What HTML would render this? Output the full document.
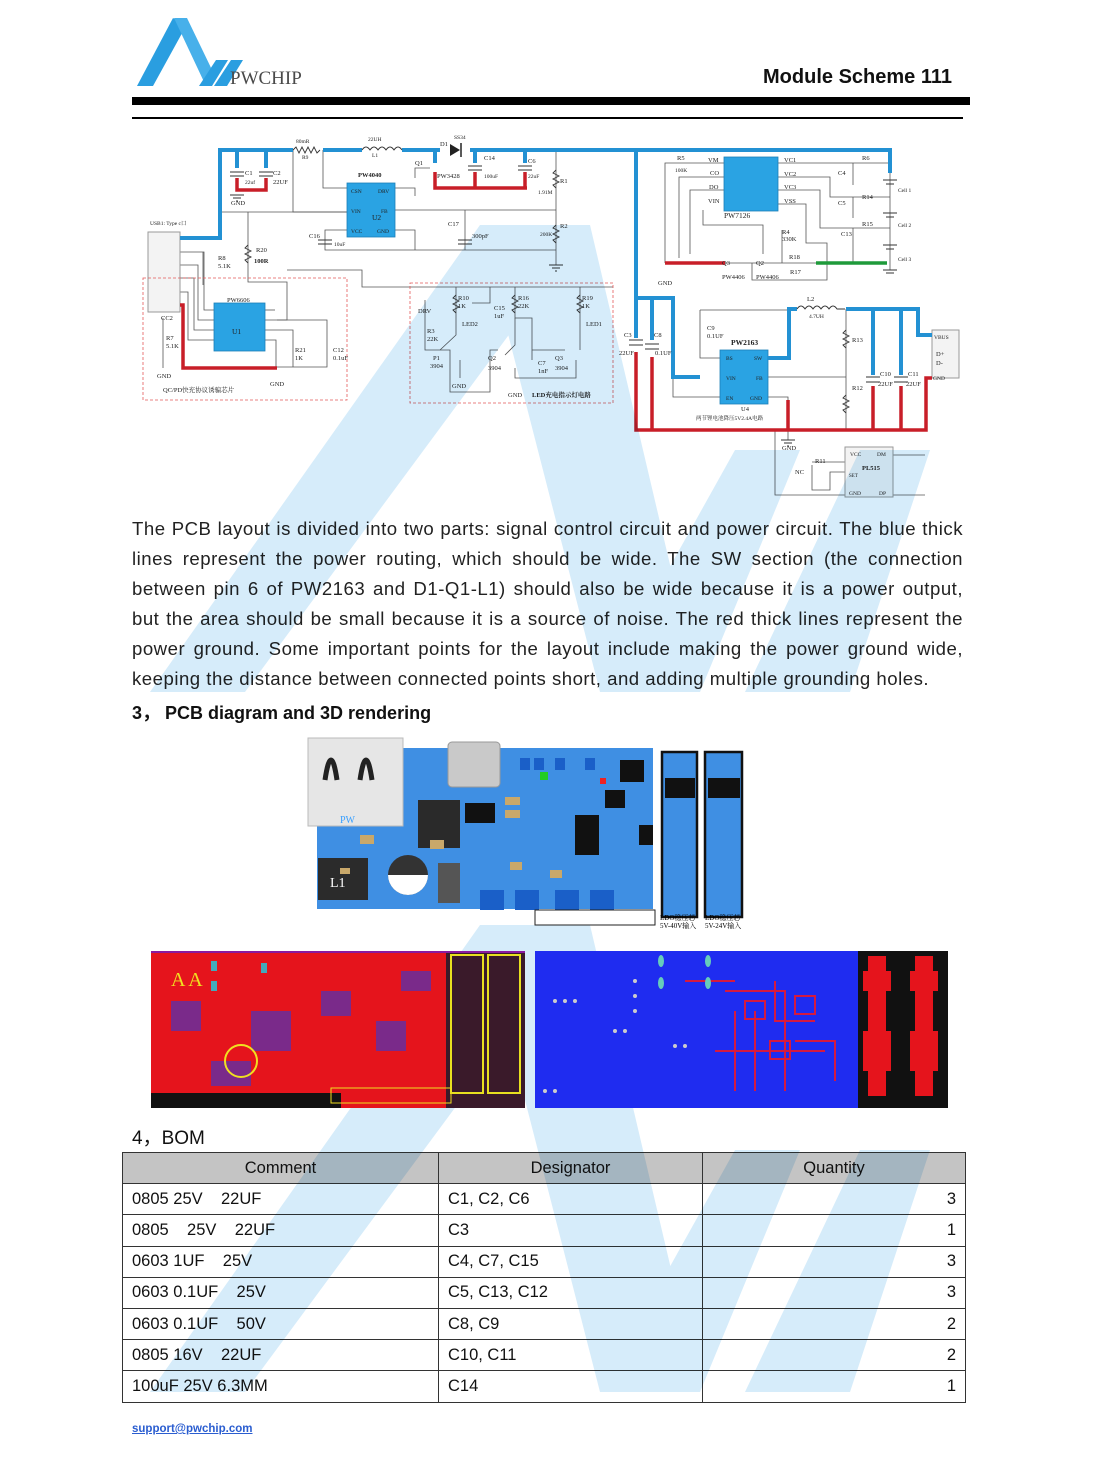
<!DOCTYPE html>
<html><head><meta charset="utf-8">
<style>
*{margin:0;padding:0;box-sizing:border-box}
html,body{width:1109px;height:1476px;background:#fff;overflow:hidden}
body{position:relative;font-family:"Liberation Sans","Noto Sans CJK SC",sans-serif;color:#111}
.abs{position:absolute}
#wm{position:absolute;left:0;top:0;z-index:5;mix-blend-mode:multiply;pointer-events:none}
.para{position:absolute;left:132px;width:831px;font-size:18.6px;line-height:30px;color:#222;z-index:2;letter-spacing:0.5px}
.para div{text-align:justify;text-align-last:justify;white-space:nowrap;height:30px;overflow:visible}
.para div.last{text-align-last:left}
table{position:absolute;left:122px;top:1152px;width:844px;border-collapse:collapse;font-size:16.5px;z-index:2}
td{border:1.3px solid #333;height:31.2px;padding:0 9px;color:#111}
tr.h td{background:#c4c4c4;text-align:center}
td.q{text-align:right}
.img{z-index:8}
svg text{font-family:"Liberation Serif","Noto Serif CJK SC",serif}
</style></head><body>

<svg class="abs" style="left:0;top:0" width="400" height="100">
<polygon points="137,86 153,86 186,26 173,18" fill="#2a9ee0"/>
<polygon points="174,18 187,18 214,74 205,84" fill="#47b0ea"/>
<polygon points="199,86 212,86 228,60 216,60" fill="#2a9ee0"/>
<polygon points="214,86 227,86 243,60 231,60" fill="#2a9ee0"/>
<text x="230" y="84" font-size="19" fill="#4a4a4a" font-family="Liberation Serif,serif">PWCHIP</text>
</svg>
<div class="abs" style="right:157px;top:66px;font-size:20px;font-weight:bold;color:#111">Module Scheme 111</div>
<div class="abs" style="left:132px;top:97px;width:838px;height:8px;background:#000"></div>
<div class="abs" style="left:132px;top:117px;width:831px;height:2px;background:#000"></div>

<svg class="abs" style="left:0;top:0;z-index:1" width="1109" height="510" font-size="6.5">
<g fill="none" stroke="#555" stroke-width="0.8">
<polyline points="293,150 293,212 347,212"/><polyline points="323,150 323,188 347,188"/>
<polyline points="395,188 415,188 415,196"/><polyline points="220,212 347,212"/>
<polyline points="395,210 556,210"/><polyline points="556,150 556,265"/>
<polyline points="347,230 325,230 325,250 556,250"/><polyline points="395,230 415,230 415,250"/>
<polyline points="465,210 465,250"/><polyline points="415,178 415,168 430,168"/>
<polyline points="180,252 204,252 204,310 214,310"/><polyline points="180,265 198,265 198,320 214,320"/>
<polyline points="180,278 194,278 194,330 214,330"/><polyline points="180,292 188,292 188,340 214,340"/>
<polyline points="203,252 203,285"/><polyline points="248,212 248,282 287,282 287,320 265,320"/>
<polyline points="265,330 293,330 293,367"/><polyline points="277,320 327,320 327,367 277,367"/>
<polyline points="265,340 276,340 276,367"/><polyline points="265,310 275,310"/>
<polyline points="287,270 362,270 362,287 613,287"/><polyline points="163,318 163,368"/>
<polyline points="456,287 456,335 440,350"/><polyline points="515,287 515,318 532,318 532,360"/>
<polyline points="580,287 580,350"/><polyline points="490,287 490,303 472,303"/>
<polyline points="425,300 425,350 450,350 450,392 490,392 490,350 498,350"/>
<polyline points="515,318 515,345 505,355"/><polyline points="532,350 565,350"/>
<polyline points="460,360 460,378"/><polyline points="515,368 515,378 532,378 576,378 576,360"/>
<polyline points="665,263 665,163 724,163"/><polyline points="679,258 679,177 724,177"/>
<polyline points="690,254 690,190 724,190"/><polyline points="703,210 703,225 763,225 763,254"/>
<polyline points="778,163 890,163"/><polyline points="778,177 830,177 830,197 890,197"/>
<polyline points="778,190 820,190 820,228 890,228"/><polyline points="778,204 806,204 806,243 827,243 827,263"/>
<polyline points="782,230 782,263"/><polyline points="725,263 887,263"/><polyline points="752,263 752,280 827,280 827,263"/>
<polyline points="853,163 853,185"/><polyline points="853,197 853,218"/><polyline points="853,228 853,263"/>
<polyline points="890,163 890,270"/>
<polyline points="700,310 789,310"/><polyline points="700,310 700,358 720,358"/>
<polyline points="673,377 673,397 720,397"/><polyline points="768,377 846,377"/>
<polyline points="846,309 846,430"/><polyline points="768,397 788,397 788,440"/>
<polyline points="775,430 775,495 845,495"/><polyline points="812,462 845,462"/>
<polyline points="812,465 812,490 830,490 830,472 845,472"/>
<polyline points="893,455 925,455"/><polyline points="893,495 925,495"/>
</g>
<g fill="#2aa3e3" stroke="#1c7fb8" stroke-width="0.8">
<rect x="347" y="183" width="48" height="54"/><rect x="214" y="303" width="51" height="48"/>
<rect x="724" y="157" width="54" height="54"/><rect x="720" y="350" width="48" height="54"/>
</g>
<rect x="148" y="232" width="32" height="80" fill="#f3f3f3" stroke="#999"/>
<rect x="932" y="330" width="27" height="48" fill="#f3f3f3" stroke="#999"/>
<rect x="845" y="447" width="48" height="50" fill="#f3f3f3" stroke="#999"/>
<rect x="143" y="278" width="204" height="122" fill="none" stroke="#e35a5a" stroke-width="0.8" stroke-dasharray="3,2"/>
<rect x="410" y="283" width="203" height="120" fill="none" stroke="#e35a5a" stroke-width="0.8" stroke-dasharray="3,2"/>
<g fill="none" stroke="#2391d3" stroke-width="4">
<polyline points="180,238 220,238 220,150 293,150"/><polyline points="323,150 362,150"/>
<polyline points="402,150 440,150"/><polyline points="470,150 890,150 890,173"/>
<polyline points="237,150 237,168"/><polyline points="266,150 266,168"/>
<polyline points="435,150 435,163"/><polyline points="475,150 475,163"/><polyline points="525,150 525,163"/>
<polyline points="636,150 636,338"/><polyline points="636,298 673,298 673,377 700,377"/>
<polyline points="652,298 652,340"/>
<polyline points="768,358 789,358 789,309 797,309"/><polyline points="846,309 918,309 918,335 932,335"/>
<polyline points="873,309 873,375"/><polyline points="901,309 901,375"/>
</g>
<g fill="none" stroke="#c81e28" stroke-width="3.5">
<polyline points="237,178 237,190 266,190 266,178"/><polyline points="435,172 435,188 527,188"/>
<polyline points="475,172 475,188"/><polyline points="525,172 525,188"/>
<polyline points="180,305 183,305 183,368 277,368"/>
<polyline points="636,352 636,430 926,430 926,378 932,378"/><polyline points="652,357 652,430"/>
<polyline points="788,400 788,430"/><polyline points="873,386 873,430"/><polyline points="901,386 901,430"/>
<polyline points="665,263 725,263"/>
</g>
<polyline points="816,263 887,263" fill="none" stroke="#1e9a3a" stroke-width="3.5"/>
<g fill="none" stroke="#333" stroke-width="0.9">
<path d="M362,150 q4,-6 8,0 q4,-6 8,0 q4,-6 8,0 q4,-6 8,0 q4,-6 8,0"/>
<path d="M797,309 q4,-6 8,0 q4,-6 8,0 q4,-6 8,0 q4,-6 8,0 q4,-6 8,0 l8,0"/>
<path d="M293,150 l3,-3 3,6 3,-6 3,6 3,-6 3,6 3,-6 3,6 3,-3"/>
<path d="M230,172h14M230,176h14M259,172h14M259,176h14M468,166h14M468,170h14M518,166h14M518,170h14"/>
<path d="M629,340h14M629,345h14M645,344h14M645,349h14M866,377h14M866,382h14M894,377h14M894,382h14"/>
<path d="M458,240h14M458,244h14M318,240h14M318,244h14"/>
<path d="M883,180h14M886,184h8M883,213h14M886,217h8M883,245h14M886,249h8"/>
<path d="M556,170 l-3,3 6,3 -6,3 6,3 -6,3 3,3M556,225 l-3,3 6,3 -6,3 6,3 -6,3 3,3"/>
<path d="M846,330 l-3,3 6,3 -6,3 6,3 -6,3 3,3M846,395 l-3,3 6,3 -6,3 6,3 -6,3 3,3"/>
<path d="M248,245 l-3,3 6,3 -6,3 6,3 -6,3 3,3M456,295 l-3,3 6,3 -6,3 6,3 -6,3 3,3M515,295 l-3,3 6,3 -6,3 6,3 -6,3 3,3M580,295 l-3,3 6,3 -6,3 6,3 -6,3 3,3"/>
<path d="M230,195h14M233,198h8M236,201h2M549,265h14M552,268h8M555,271h2M781,440h14M784,443h8M787,446h2"/>
<path d="M883,270h14M886,273h8"/>
</g>
<polygon points="450,144 450,156 460,150" fill="#222"/><line x1="461" y1="143" x2="461" y2="157" stroke="#222" stroke-width="1.5"/>
<g fill="#222">
<text x="296" y="143" font-size="5.5">80mR</text><text x="302" y="159" font-size="5.5">R9</text>
<text x="368" y="141" font-size="5.5">22UH</text><text x="372" y="157" font-size="5.5">L1</text>
<text x="440" y="146">D1</text><text x="454" y="139" font-size="5.5">SS34</text>
<text x="358" y="177" font-weight="bold">PW4040</text><text x="415" y="165">Q1</text><text x="437" y="178">PW3428</text>
<text x="484" y="160">C14</text><text x="484" y="178" font-size="5.5">100uF</text><text x="528" y="163">C6</text><text x="528" y="178" font-size="5.5">22uF</text>
<text x="560" y="183">R1</text><text x="538" y="194" font-size="5.5">1.91M</text><text x="560" y="228">R2</text><text x="540" y="236" font-size="5.5">200K</text>
<text x="448" y="226">C17</text><text x="472" y="238">300pF</text><text x="309" y="238">C16</text><text x="334" y="246" font-size="5.5">10uF</text>
<text x="245" y="175">C1</text><text x="245" y="184" font-size="5.5">22uf</text><text x="273" y="175">C2</text><text x="273" y="184">22UF</text>
<text x="150" y="225" font-size="5.5">USB1: Type c口</text><text x="256" y="252">R20</text><text x="254" y="263" font-weight="bold">100R</text>
<text x="218" y="260">R8</text><text x="218" y="268">5.1K</text><text x="227" y="302">PW6606</text><text x="232" y="334" font-size="7.5">U1</text>
<text x="372" y="220" font-size="7.5">U2</text><text x="351" y="193" font-size="5.5">CSN</text><text x="378" y="193" font-size="5.5">DRV</text>
<text x="351" y="213" font-size="5.5">VIN</text><text x="381" y="213" font-size="5.5">FB</text><text x="351" y="233" font-size="5.5">VCC</text><text x="377" y="233" font-size="5.5">GND</text>
<text x="161" y="320">CC2</text><text x="166" y="340">R7</text><text x="166" y="348">5.1K</text>
<text x="295" y="352">R21</text><text x="295" y="360">1K</text><text x="333" y="352">C12</text><text x="333" y="360">0.1uF</text>
<text x="163" y="392">QC/PD快充协议诱骗芯片</text><text x="270" y="386">GND</text><text x="157" y="378">GND</text><text x="231" y="205">GND</text>
<text x="458" y="300">R10</text><text x="458" y="308">1K</text><text x="518" y="300">R16</text><text x="518" y="308">22K</text>
<text x="582" y="300">R19</text><text x="582" y="308">1K</text><text x="494" y="310">C15</text><text x="494" y="318">1uF</text>
<text x="462" y="326">LED2</text><text x="586" y="326">LED1</text><text x="418" y="313">DRV</text><text x="427" y="333">R3</text><text x="427" y="341">22K</text>
<text x="433" y="360">P1</text><text x="430" y="368">3904</text><text x="488" y="360">Q2</text><text x="488" y="370">3904</text>
<text x="555" y="360">Q3</text><text x="555" y="370">3904</text><text x="538" y="365">C7</text><text x="538" y="373">1nF</text>
<text x="532" y="397" font-weight="bold">LED充电指示灯电路</text><text x="452" y="388">GND</text><text x="508" y="397">GND</text>
<text x="677" y="160">R5</text><text x="675" y="172" font-size="5.5">100K</text><text x="708" y="162">VM</text><text x="710" y="175">CO</text>
<text x="709" y="189">DO</text><text x="708" y="203">VIN</text><text x="784" y="162">VC1</text><text x="784" y="176">VC2</text><text x="784" y="189">VC3</text><text x="784" y="203">VSS</text>
<text x="724" y="218" font-size="7.5">PW7126</text><text x="862" y="160">R6</text><text x="862" y="199">R14</text><text x="862" y="226">R15</text>
<text x="898" y="192" font-size="5.5">Cell 1</text><text x="898" y="227" font-size="5.5">Cell 2</text><text x="898" y="261" font-size="5.5">Cell 3</text>
<text x="838" y="175">C4</text><text x="838" y="205">C5</text><text x="841" y="236">C13</text><text x="782" y="234">R4</text><text x="782" y="241">330K</text>
<text x="789" y="259">R18</text><text x="790" y="274">R17</text><text x="722" y="265">Q3</text><text x="756" y="265">Q2</text>
<text x="722" y="279">PW4406</text><text x="756" y="279">PW4406</text><text x="658" y="285">GND</text>
<text x="624" y="337">C3</text><text x="654" y="337">C8</text><text x="619" y="355">22UF</text><text x="655" y="355">0.1UF</text>
<text x="707" y="330">C9</text><text x="707" y="338">0.1UF</text><text x="731" y="345" font-weight="bold" font-size="7.5">PW2163</text>
<text x="726" y="360" font-size="5.5">BS</text><text x="754" y="360" font-size="5.5">SW</text><text x="726" y="380" font-size="5.5">VIN</text><text x="756" y="380" font-size="5.5">FB</text>
<text x="726" y="400" font-size="5.5">EN</text><text x="750" y="400" font-size="5.5">GND</text><text x="741" y="411">U4</text><text x="696" y="420" font-size="5.5">两节锂电池降压5V2.4A电路</text>
<text x="807" y="301">L2</text><text x="809" y="318" font-size="5.5">4.7UH</text><text x="852" y="342">R13</text><text x="852" y="390">R12</text>
<text x="880" y="376">C10</text><text x="878" y="386">22UF</text><text x="908" y="376">C11</text><text x="906" y="386">22UF</text>
<text x="934" y="339" font-size="5.5">VBUS</text><text x="936" y="356">D+</text><text x="936" y="365">D-</text><text x="933" y="380" font-size="5.5">GND</text>
<text x="850" y="456" font-size="5.5">VCC</text><text x="877" y="456" font-size="5.5">DM</text><text x="862" y="470" font-weight="bold">PL515</text>
<text x="849" y="477" font-size="5">SET</text><text x="849" y="495" font-size="5.5">GND</text><text x="879" y="495" font-size="5.5">DP</text>
<text x="815" y="463">R11</text><text x="795" y="474">NC</text><text x="782" y="450">GND</text>
</g>
</svg>

<div class="para" style="top:514px">
<div>The PCB layout is divided into two parts: signal control circuit and power circuit. The blue thick</div>
<div>lines represent the power routing, which should be wide. The SW section (the connection</div>
<div>between pin 6 of PW2163 and D1-Q1-L1) should also be wide because it is a power output,</div>
<div>but the area should be small because it is a source of noise. The red thick lines represent the</div>
<div>power ground. Some important points for the layout include making the power ground wide,</div>
<div class="last">keeping the distance between connected points short, and adding multiple grounding holes.</div>
</div>
<div class="abs" style="left:132px;top:699px;font-size:18px;font-weight:bold;z-index:2">3，&nbsp;PCB diagram and 3D rendering</div>

<svg class="abs img" style="left:300px;top:730px" width="460" height="210">
<rect x="17" y="18" width="336" height="161" fill="#3f8fe3"/>
<rect x="8" y="8" width="95" height="88" fill="#e6e6e6" stroke="#bbb"/>
<path d="M25,50 q6,-40 12,0 M60,50 q6,-40 12,0" stroke="#222" stroke-width="5" fill="none"/>
<text x="40" y="93" fill="#3aa0ff" font-size="10" font-family="Liberation Sans">PW</text>
<rect x="148" y="12" width="52" height="45" rx="4" fill="#c9c9c9" stroke="#999"/>
<rect x="118" y="70" width="42" height="48" fill="#2a2a2a"/><rect x="18" y="128" width="50" height="42" fill="#2b2b2b"/>
<text x="30" y="157" fill="#fff" font-size="14" font-family="Liberation Sans">L1</text>
<circle cx="108" cy="145" r="20" fill="#333"/><path d="M88,145 a20,20 0 0 0 40,0z" fill="#fff"/>
<rect x="138" y="133" width="22" height="40" fill="#555"/><rect x="165" y="73" width="30" height="20" fill="#111"/>
<rect x="320" y="30" width="24" height="22" fill="#111"/><rect x="275" y="85" width="24" height="40" fill="#111"/>
<rect x="305" y="60" width="20" height="18" fill="#111"/><rect x="339" y="95" width="14" height="20" fill="#111"/>
<rect x="240" y="42" width="8" height="8" fill="#2c2"/><rect x="300" y="48" width="6" height="6" fill="#e22"/>
<g fill="#c9a86a"><rect x="205" y="67" width="15" height="8"/><rect x="205" y="80" width="15" height="8"/><rect x="60" y="105" width="14" height="9"/><rect x="130" y="110" width="14" height="9"/><rect x="40" y="138" width="10" height="6"/><rect x="210" y="132" width="12" height="8"/><rect x="250" y="140" width="12" height="8"/></g>
<g fill="#1a5fc8"><rect x="220" y="28" width="10" height="12"/><rect x="234" y="28" width="10" height="12"/><rect x="255" y="28" width="10" height="12"/><rect x="285" y="28" width="10" height="12"/><rect x="180" y="160" width="24" height="20"/><rect x="215" y="160" width="24" height="20"/><rect x="255" y="160" width="24" height="20"/><rect x="290" y="160" width="24" height="20"/></g>
<rect x="235" y="180" width="120" height="15" fill="none" stroke="#222"/>
<rect x="362" y="22" width="35" height="165" fill="#3f8fe3" stroke="#111" stroke-width="2.5"/>
<rect x="405" y="22" width="37" height="165" fill="#3f8fe3" stroke="#111" stroke-width="2.5"/>
<rect x="365" y="48" width="30" height="20" fill="#111"/><rect x="408" y="48" width="32" height="20" fill="#111"/>
<text x="360" y="190" font-size="7" font-family="Liberation Sans,Noto Sans CJK SC">LDO稳压芯</text><text x="405" y="190" font-size="7" font-family="Liberation Sans,Noto Sans CJK SC">LDO稳压芯</text>
<text x="360" y="198" font-size="7" font-family="Liberation Sans,Noto Sans CJK SC">5V-40V输入</text><text x="405" y="198" font-size="7" font-family="Liberation Sans,Noto Sans CJK SC">5V-24V输入</text>
</svg>

<svg class="abs img" style="left:151px;top:951px" width="374" height="157">
<rect width="374" height="157" fill="#e5141c"/>
<rect x="0" y="142" width="190" height="15" fill="#111"/>
<rect x="295" y="0" width="79" height="157" fill="#3a1a2a"/>
<rect x="300" y="4" width="32" height="138" fill="none" stroke="#e8e020" stroke-width="2"/>
<rect x="337" y="4" width="32" height="138" fill="none" stroke="#e8e020" stroke-width="2"/>
<rect x="0" y="0" width="374" height="2" fill="#8a1aa0"/>
<g fill="#7a2a8a"><rect x="20" y="50" width="30" height="30"/><rect x="100" y="60" width="40" height="40"/><rect x="170" y="40" width="30" height="25"/><rect x="60" y="110" width="40" height="25"/><rect x="225" y="70" width="30" height="30"/><rect x="250" y="20" width="30" height="20"/></g>
<text x="20" y="35" fill="#f0e020" font-size="20" font-family="Liberation Sans">A A</text>
<circle cx="90" cy="110" r="16" fill="none" stroke="#f0e020" stroke-width="2"/>
<rect x="180" y="137" width="120" height="15" fill="none" stroke="#f0e020"/>
<g fill="#4ab"><rect x="60" y="10" width="6" height="10"/><rect x="60" y="30" width="6" height="10"/><rect x="110" y="12" width="6" height="10"/></g>
</svg>

<svg class="abs img" style="left:535px;top:951px" width="413" height="157">
<rect width="323" height="157" fill="#1f2cf0"/><rect x="323" width="90" height="157" fill="#111"/>
<g fill="#e5141c"><rect x="333" y="5" width="18" height="140"/><rect x="380" y="5" width="18" height="140"/><rect x="328" y="20" width="28" height="20"/><rect x="375" y="20" width="28" height="20"/><rect x="328" y="80" width="28" height="40"/><rect x="375" y="80" width="28" height="40"/></g>
<g fill="none" stroke="#d41a40" stroke-width="2"><path d="M190,40 h60 v100 M200,60 v80 M220,60 v80 M180,100 h110 M240,30 v40 h40 M150,30 h50 M260,90 h40 v40"/><rect x="210" y="50" width="20" height="18"/><rect x="260" y="45" width="20" height="18"/><rect x="235" y="90" width="20" height="18"/></g>
<g fill="#ccc"><circle cx="20" cy="50" r="2"/><circle cx="30" cy="50" r="2"/><circle cx="40" cy="50" r="2"/><circle cx="80" cy="80" r="2"/><circle cx="90" cy="80" r="2"/><circle cx="100" cy="30" r="2"/><circle cx="100" cy="45" r="2"/><circle cx="100" cy="60" r="2"/><circle cx="140" cy="95" r="2"/><circle cx="150" cy="95" r="2"/><circle cx="10" cy="140" r="2"/><circle cx="20" cy="140" r="2"/></g>
<g fill="#6cb"><ellipse cx="126" cy="10" rx="3" ry="6"/><ellipse cx="173" cy="10" rx="3" ry="6"/><ellipse cx="126" cy="32" rx="3" ry="6"/><ellipse cx="173" cy="32" rx="3" ry="6"/></g>
</svg>

<div class="abs" style="left:132px;top:1123px;font-size:19px;z-index:2">4，BOM</div>
<table>
<tr class="h"><td style="width:316px">Comment</td><td style="width:264px">Designator</td><td>Quantity</td></tr>
<tr><td>0805 25V&nbsp;&nbsp;&nbsp; 22UF</td><td>C1, C2, C6</td><td class="q">3</td></tr>
<tr><td>0805&nbsp;&nbsp;&nbsp; 25V&nbsp;&nbsp;&nbsp; 22UF</td><td>C3</td><td class="q">1</td></tr>
<tr><td>0603 1UF&nbsp;&nbsp;&nbsp; 25V</td><td>C4, C7, C15</td><td class="q">3</td></tr>
<tr><td>0603 0.1UF&nbsp;&nbsp;&nbsp; 25V</td><td>C5, C13, C12</td><td class="q">3</td></tr>
<tr><td>0603 0.1UF&nbsp;&nbsp;&nbsp; 50V</td><td>C8, C9</td><td class="q">2</td></tr>
<tr><td>0805 16V&nbsp;&nbsp;&nbsp; 22UF</td><td>C10, C11</td><td class="q">2</td></tr>
<tr><td>100uF 25V 6.3MM</td><td>C14</td><td class="q">1</td></tr>
</table>
<div class="abs" style="left:132px;top:1423px;font-size:11.5px;font-weight:bold;color:#2a5dd0;text-decoration:underline">support@pwchip.com</div>

<svg id="wm" width="1109" height="1476">
<g fill="#d6ecfa">
<g>
<polygon points="150,1392 245,1392 590,925 480,925"/>
<polygon points="480,925 590,925 700,1392 600,1392"/>
<polygon points="600,1392 700,1392 800,1150 735,1150"/>
<polygon points="745,1392 850,1392 930,1150 860,1150"/>
</g>
<g transform="translate(0,-700)">
<polygon points="150,1392 245,1392 590,925 480,925"/>
<polygon points="480,925 590,925 700,1392 600,1392"/>
<polygon points="600,1392 700,1392 800,1150 735,1150"/>
<polygon points="745,1392 850,1392 930,1150 860,1150"/>
</g>
</g>
</svg>
</body></html>
